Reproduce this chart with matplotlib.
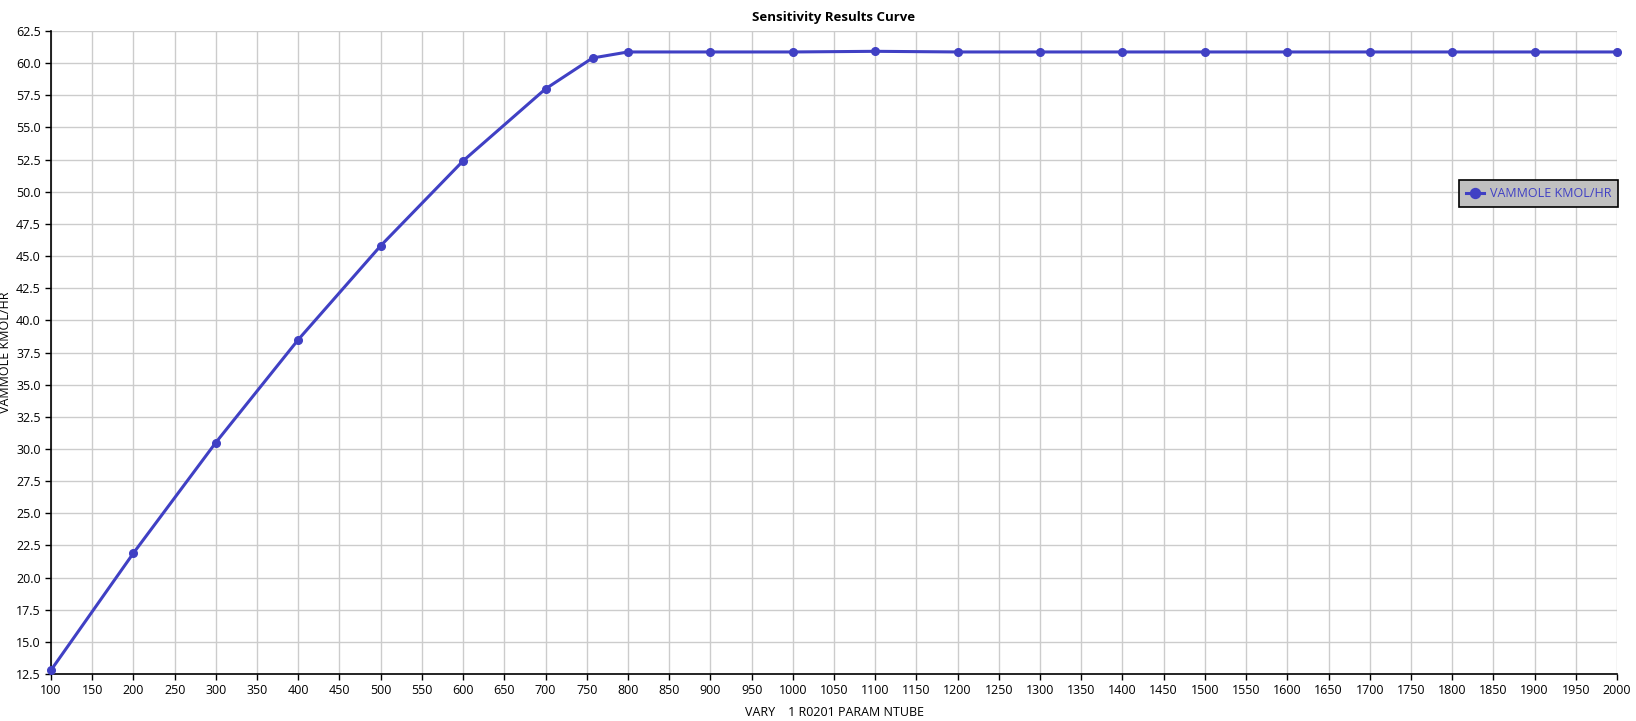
import matplotlib
matplotlib.use("Agg")
import matplotlib.pyplot as plt
from matplotlib.ticker import MultipleLocator, FormatStrFormatter

plt.rcParams['font.family'] = ['Open Sans', 'DejaVu Sans']

ntube = [100, 200, 300, 400, 500, 600, 700, 757, 800, 900, 1000, 1100,
         1200, 1300, 1400, 1500, 1600, 1700, 1800, 1900, 2000]
vammole = [12.8, 21.9, 30.5, 38.5, 45.8, 52.4, 58.0, 60.4, 60.87, 60.87, 60.87, 60.92,
           60.87, 60.87, 60.87, 60.87, 60.87, 60.87, 60.87, 60.87, 60.87]

line_color = '#4040C4'

fig = plt.figure(figsize=(16.36, 7.21), dpi=100)
ax = fig.add_axes([51 / 1636, 1 - 674 / 721, (1617 - 51) / 1636, (674 - 31) / 721])

ax.plot(ntube, vammole, color=line_color, lw=2.2, marker='o', ms=5.5,
        label='VAMMOLE KMOL/HR', clip_on=False, zorder=3)

ax.set_xlim(100, 2000)
ax.set_ylim(12.5, 62.5)
ax.xaxis.set_major_locator(MultipleLocator(50))
ax.yaxis.set_major_locator(MultipleLocator(2.5))
ax.yaxis.set_major_formatter(FormatStrFormatter('%.1f'))
ax.grid(True, color='#CCCCCC', lw=1.0)
ax.set_axisbelow(True)
for s in ['top', 'right']:
    ax.spines[s].set_visible(False)
for s in ['left', 'bottom']:
    ax.spines[s].set_linewidth(1.2)
ax.tick_params(labelsize=9, length=4, width=1)

ax.set_title('Sensitivity Results Curve', fontsize=9.5, fontweight='bold', pad=7)
ax.set_xlabel('VARY    1 R0201 PARAM NTUBE', fontsize=9, labelpad=6)
ax.set_ylabel('VAMMOLE KMOL/HR', fontsize=9)
ax.yaxis.set_label_coords((12 - 51) / 1566, 0.5)

leg = ax.legend(loc='upper left', bbox_to_anchor=((1453 - 51) / 1566, 1 - (174 - 31) / 643),
                fontsize=9, frameon=True, fancybox=False, borderpad=0.55,
                handlelength=1.4, handletextpad=0.5, markerscale=1.3)
leg.get_frame().set_facecolor('#C0C0C0')
leg.get_frame().set_edgecolor('black')
leg.get_frame().set_alpha(1)
leg.get_frame().set_linewidth(1.2)
for t in leg.get_texts():
    t.set_color(line_color)

fig.savefig('out.png', dpi=100)
